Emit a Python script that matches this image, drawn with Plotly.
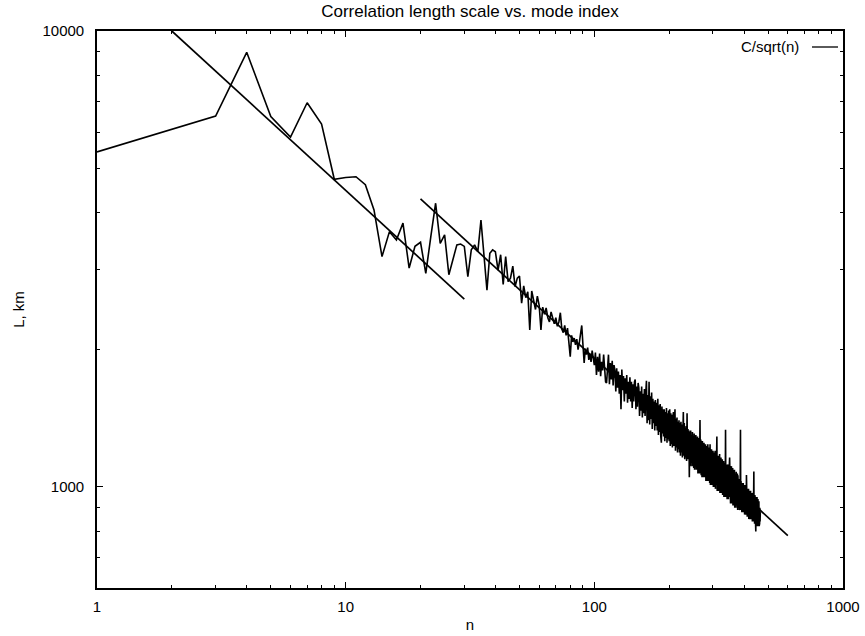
import plotly.graph_objects as go

# ---- data ----
mode_index = list(range(1, 466))
length_km = [
    5430, 6100, 6510, 8980, 6490, 5850, 6960, 6250, 4730, 4770,
    4790, 4600, 4050, 3200, 3630, 3480, 3790, 3020, 3370, 3440,
    2940, 3540, 4190, 3420, 3570, 2920, 3170, 3395, 3410, 3370,
    2890, 3310, 3395, 3280, 3850, 3200, 2700, 3255, 3310, 3280,
    2990, 3230, 2780, 3200, 2820, 2870, 3050, 2750, 2870, 2900,
    2530, 2760, 2600, 2680, 2210, 2690, 2580, 2450, 2620, 2500,
    2210, 2480, 2390, 2470, 2350, 2300, 2420, 2330, 2280, 2350,
    2250, 2300, 2410, 2220, 2180, 2260, 2150, 2230, 2100, 1930,
    2150, 2080, 2120, 2050, 2110, 2000, 2070, 2150, 2260, 2050,
    1870, 2010, 1950, 2020, 1900, 1960, 1880, 1990, 1920, 1850,
    1970, 1760, 1930, 1790, 1960, 1750, 1880, 1800, 1950, 1760,
    1700, 1690, 1880, 1950, 1680, 1870, 1720, 1890, 1670, 1850,
    1800, 1620, 1820, 1650, 1790, 1600, 1760, 1480, 1810, 1630,
    1750, 1540, 1730, 1600, 1760, 1530, 1700, 1560, 1740, 1540,
    1700, 1490, 1680, 1540, 1700, 1720, 1480, 1660, 1500, 1690,
    1650, 1430, 1620, 1470, 1660, 1420, 1600, 1450, 1640, 1430,
    1600, 1710, 1380, 1590, 1400, 1700, 1370, 1580, 1410, 1610,
    1340, 1560, 1380, 1540, 1330, 1550, 1360, 1530, 1330, 1560,
    1300, 1510, 1320, 1520, 1290, 1250, 1500, 1310, 1480, 1290,
    1480, 1260, 1460, 1280, 1490, 1250, 1450, 1270, 1470, 1260,
    1480, 1230, 1450, 1240, 1440, 1220, 1420, 1460, 1230, 1440,
    1480, 1200, 1410, 1220, 1420, 1190, 1390, 1210, 1400, 1190,
    1380, 1170, 1390, 1190, 1370, 1160, 1360, 1460, 1170, 1380,
    1150, 1350, 1160, 1360, 1140, 1450, 1150, 1340, 1160, 1330,
    1050, 1320, 1120, 1330, 1110, 1300, 1130, 1320, 1110, 1290,
    1100, 1310, 1090, 1280, 1110, 1300, 1090, 1270, 1100, 1290,
    1070, 1280, 1090, 1260, 1070, 1402, 1080, 1270, 1060, 1250,
    1050, 1260, 1070, 1240, 1050, 1250, 1060, 1230, 1050, 1240,
    1030, 1230, 1050, 1220, 1030, 1240, 1040, 1210, 1030, 1220,
    1020, 1240, 1010, 1200, 1030, 1210, 1010, 1190, 1020, 1200,
    1000, 1190, 1020, 1180, 1000, 1200, 990, 1170, 1010, 1180,
    1290, 980, 1160, 990, 1170, 980, 1150, 990, 1180, 970,
    1150, 980, 1160, 970, 1140, 980, 1150, 960, 1130, 970,
    1140, 950, 1120, 960, 1130, 950, 1335, 950, 1120, 960,
    1120, 940, 1110, 950, 1120, 940, 1100, 950, 1110, 1160,
    930, 1100, 920, 1090, 940, 1110, 920, 1090, 930, 1100,
    910, 1090, 920, 1080, 910, 1090, 900, 1080, 920, 1070,
    900, 1080, 910, 1060, 900, 1070, 890, 1060, 900, 1050,
    900, 1040, 890, 1030, 900, 1020, 1335, 890, 1030, 900,
    1030, 880, 1020, 890, 1010, 880, 1020, 890, 1000, 880,
    1010, 870, 1000, 880, 1010, 870, 990, 880, 1062, 870,
    1000, 860, 990, 870, 980, 860, 990, 850, 980, 860,
    980, 850, 970, 860, 980, 850, 960, 860, 970, 840,
    960, 840, 960, 850, 970, 840, 950, 1081, 840, 950,
    830, 960, 840, 940, 830, 798, 950, 830, 940, 820,
    950, 830, 930, 820, 940, 830, 920, 820, 930, 820,
    910, 830, 900, 840, 880,
]

# fitted C/sqrt(n) lines (end points)
fit1_n = [2, 30]
fit1_L = [10000, 2582]
fit2_n = [20, 600]
fit2_L = [4282, 782]

x_tickvals = [1, 10, 100, 1000]
x_ticktext = ["1", "10", "100", "1000"]
y_tickvals = [1000, 10000]
y_ticktext = ["1000", "10000"]
x_minor = [m * 10 ** d for d in range(0, 3) for m in range(2, 10)]
y_minor = [600, 700, 800, 900, 2000, 3000, 4000, 5000, 6000, 7000, 8000, 9000]

FONT = "Liberation Sans, Arial, Helvetica, sans-serif"

W, H = 865, 636
ML, MR, MT, MB = 97, 22, 31, 48
PW, PH = W - ML - MR, H - MT - MB

fig = go.Figure()
fig.add_trace(go.Scatter(x=mode_index, y=length_km, mode="lines",
                         line=dict(color="black", width=1.6), showlegend=False))
fig.add_trace(go.Scatter(x=fit1_n, y=fit1_L, mode="lines",
                         line=dict(color="black", width=1.7), showlegend=False))
fig.add_trace(go.Scatter(x=fit2_n, y=fit2_L, mode="lines",
                         line=dict(color="black", width=1.7), showlegend=False))

axis_common = dict(
    type="log", showgrid=False, zeroline=False, showline=True,
    linecolor="black", linewidth=1.6, mirror="ticks", automargin=False,
    ticks="inside", ticklen=6, tickwidth=1.2, tickcolor="black",
    tickfont=dict(family=FONT, size=15, color="black"),
)

fig.update_layout(
    width=W, height=H,
    margin=dict(l=ML, r=MR, t=MT, b=MB, autoexpand=False),
    paper_bgcolor="white", plot_bgcolor="white",
    font=dict(family=FONT, size=15, color="black"),
    title=dict(text="Correlation length scale vs. mode index",
               x=0.5, xref="paper", xanchor="center",
               y=1 - 11 / H, yref="container", yanchor="middle",
               font=dict(family=FONT, size=17, color="black")),
    xaxis=dict(**axis_common, range=[0, 3],
               tickvals=x_tickvals, ticktext=x_ticktext,
               minor=dict(tickvals=x_minor, ticks="inside", ticklen=3,
                          tickcolor="black", showgrid=False),
               ticklabelstandoff=4,
               title=dict(text="n", standoff=6,
                          font=dict(family=FONT, size=15))),
    yaxis=dict(**axis_common, range=[2.7782, 4],
               tickvals=y_tickvals, ticktext=y_ticktext,
               minor=dict(tickvals=y_minor, ticks="inside", ticklen=3,
                          tickcolor="black", showgrid=False),
               ticklabelstandoff=8,
               title=dict(text="L, km", standoff=14,
                          font=dict(family=FONT, size=15))),
    showlegend=False,
)

# key in gnuplot style: text then line sample
key_y = 1 - 16 / PH
fig.add_annotation(text="C/sqrt(n)", xref="paper", yref="paper",
                   x=704 / PW, y=key_y,
                   xanchor="right", yanchor="middle", showarrow=False,
                   font=dict(family=FONT, size=15, color="black"))
fig.add_shape(type="line", xref="paper", yref="paper",
              x0=715 / PW, x1=741 / PW, y0=key_y, y1=key_y,
              line=dict(color="black", width=1.3))

# remove the default page margin so the figure sits at the window's corner
fig.write_html("out.html", config={"displayModeBar": False},
               post_script="document.body.style.margin='0';")
